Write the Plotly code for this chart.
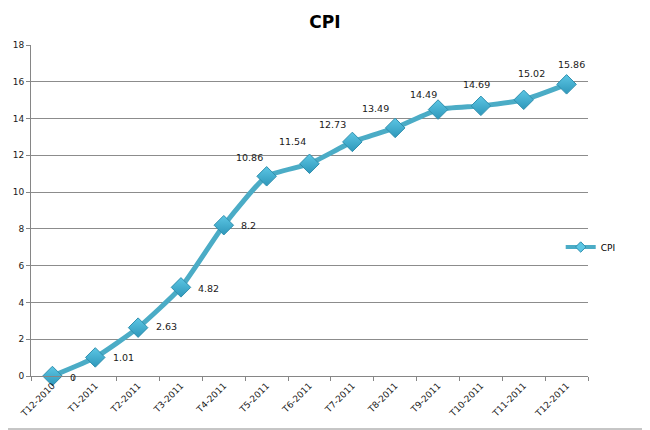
import plotly.graph_objects as go

categories = ["T12-2010", "T1-2011", "T2-2011", "T3-2011", "T4-2011", "T5-2011", "T6-2011",
              "T7-2011", "T8-2011", "T9-2011", "T10-2011", "T11-2011", "T12-2011"]
cpi = [0, 1.01, 2.63, 4.82, 8.2, 10.86, 11.54, 12.73, 13.49, 14.49, 14.69, 15.02, 15.86]
y_ticks = [0, 2, 4, 6, 8, 10, 12, 14, 16, 18]

# label placement styles (pixel offsets relative to each point)
label_anchor = ["left"] * 5 + ["center"] * 8
label_dx = [16, 16, 16, 15, 15, -17, -17, -20, -20, -15, -4, 8, 5]
label_dy = [-1, 0, 1, -1, 0, 19, 22, 17, 19, 15, 21, 26, 20]

OFF = 8  # default page body margin
W, H = 650 - OFF, 430 - OFF
L, T = 31 - OFF, 45 - OFF
R = W - (588 - OFF)
B = H - (376 - OFF)
pw, ph = W - L - R, H - T - B

LINE_C = "#4BACC6"

fig = go.Figure()
fig.add_trace(go.Scatter(
    x=categories, y=cpi, name="CPI", showlegend=False,
    mode="lines+markers",
    line=dict(color=LINE_C, width=5, shape="spline", smoothing=0.5),
    marker=dict(symbol="diamond", size=15, color="#5CC6E4",
                gradient=dict(type="vertical", color="#2E97BA"),
                line=dict(color="#2F8FAE", width=1)),
    cliponaxis=False,
))
# legend entry
fig.add_trace(go.Scatter(
    x=[None], y=[None], name="CPI", mode="lines+markers",
    line=dict(color=LINE_C, width=4),
    marker=dict(symbol="diamond", size=8, color="#5CC6E4", line=dict(color="#2F8FAE", width=1)),
))

for i, (c, v) in enumerate(zip(categories, cpi)):
    fig.add_annotation(x=c, y=v, text=str(v), showarrow=False,
                       xanchor=label_anchor[i], yanchor="middle",
                       xshift=label_dx[i], yshift=label_dy[i],
                       font=dict(family="DejaVu Sans", size=9.5, color="#1a1a1a"))

fig.update_layout(
    width=W, height=H,
    margin=dict(l=L, r=R, t=T, b=B, autoexpand=False),
    paper_bgcolor="white", plot_bgcolor="white",
    title=dict(text="<b>CPI</b>", x=(325 - OFF) / W, xanchor="center",
               y=1 - (22 - OFF) / H, yanchor="middle",
               font=dict(family="DejaVu Sans", size=17, color="#000000")),
    font=dict(family="DejaVu Sans", size=9, color="#000000"),
    showlegend=True,
    legend=dict(x=0.951, y=(368 - 231 - OFF) / ph, xanchor="left", yanchor="middle",
                font=dict(family="DejaVu Sans", size=9, color="#000000"),
                bgcolor="rgba(0,0,0,0)", itemwidth=30),
    xaxis=dict(type="category", tickangle=-45, showgrid=False, showline=True,
               linecolor="#868686", linewidth=1, ticks="outside", tickson="boundaries",
               ticklen=4, tickcolor="#868686", range=[-0.5, len(categories) - 0.5],
               automargin=False,
               tickfont=dict(family="DejaVu Sans", size=9, color="#1a1a1a")),
    yaxis=dict(range=[0, 18], tickvals=y_ticks, showgrid=True, gridcolor="#8C8C8C", gridwidth=1,
               showline=True, linecolor="#868686", linewidth=1, ticks="outside", ticklen=4,
               tickcolor="#868686", zeroline=False, automargin=False,
               tickfont=dict(family="DejaVu Sans", size=9, color="#1a1a1a")),
    shapes=[
        dict(type="line", xref="paper", yref="paper",
             x0=(W - 2.5 - L) / pw, x1=(W - 2.5 - L) / pw, y0=-B / ph, y1=1 + T / ph,
             line=dict(color="#8C8C8C", width=1.5)),
        dict(type="line", xref="paper", yref="paper",
             x0=-L / pw, x1=(W - L) / pw, y0=-(B - 1) / ph, y1=-(B - 1) / ph,
             line=dict(color="#8C8C8C", width=1)),
    ],
)

fig.write_html("out.html")
